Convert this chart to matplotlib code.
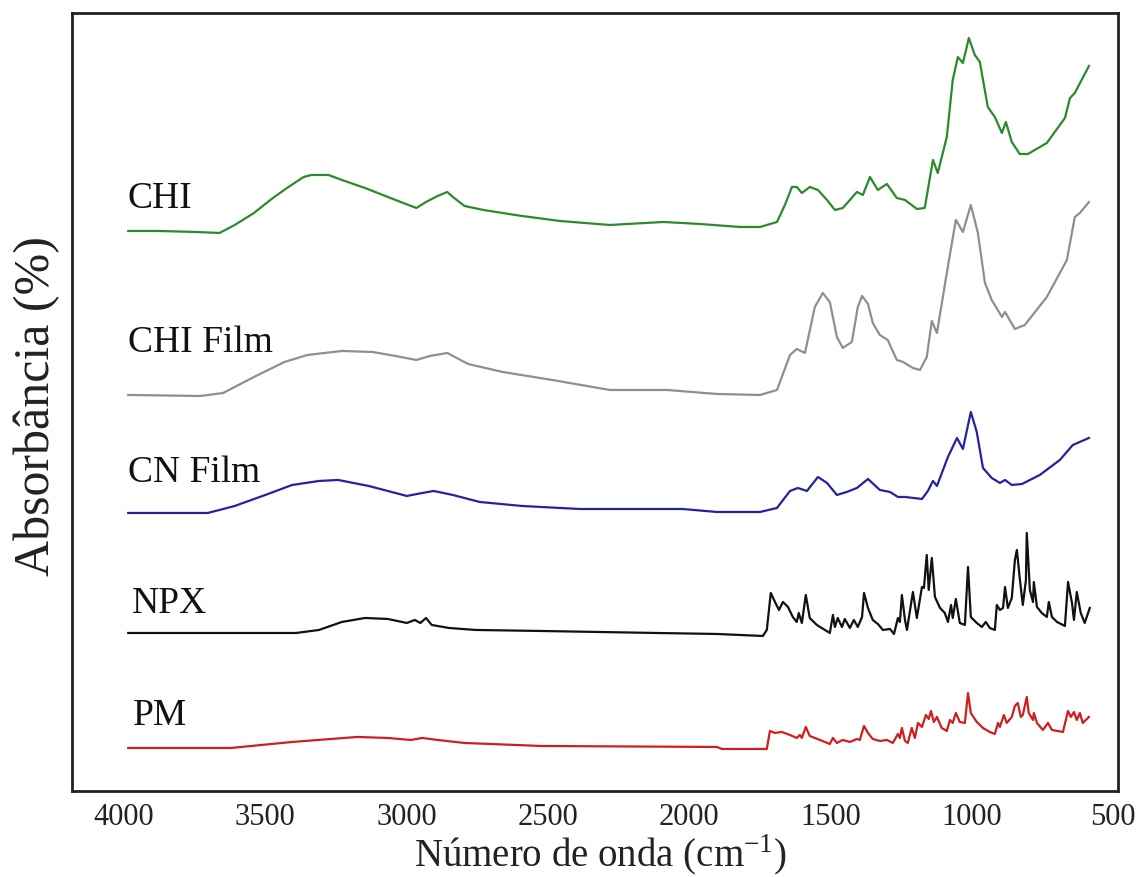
import matplotlib
matplotlib.use("Agg")
import matplotlib.pyplot as plt

plt.rcParams["font.family"] = ["Liberation Serif", "DejaVu Serif"]
plt.rcParams["mathtext.fontset"] = "custom"
plt.rcParams["mathtext.rm"] = "Liberation Serif"

# ---------- FTIR spectra (wavenumber in cm-1, absorbance in a.u. above each baseline) ----------

chi_wn = [3985, 3879, 3743, 3662, 3608, 3540, 3473, 3418, 3364, 3337, 3276, 3229, 3147,
          3066, 3012, 2965, 2931, 2890, 2856, 2836, 2795, 2728, 2592, 2457, 2281, 2091,
          1962, 1820, 1749, 1689, 1661, 1636, 1619, 1601, 1573, 1544, 1512, 1484, 1456,
          1406, 1385, 1360, 1332, 1300, 1265, 1236, 1194, 1166, 1148, 1137, 1120, 1088,
          1067, 1049, 1031, 1010, 989, 971, 943, 918, 893, 879, 858, 830, 801, 734, 670,
          652, 635, 585]
chi_abs = [0.00, 0.00, -0.01, -0.02, 0.06, 0.18, 0.33, 0.44, 0.54, 0.56, 0.56, 0.51, 0.43,
           0.34, 0.28, 0.23, 0.29, 0.35, 0.39, 0.34, 0.25, 0.21, 0.15, 0.10, 0.06, 0.09,
           0.07, 0.04, 0.04, 0.09, 0.26, 0.44, 0.44, 0.38, 0.44, 0.41, 0.31, 0.21, 0.23,
           0.39, 0.36, 0.54, 0.41, 0.47, 0.33, 0.31, 0.22, 0.23, 0.53, 0.71, 0.58, 0.94,
           1.51, 1.74, 1.68, 1.93, 1.76, 1.69, 1.24, 1.14, 0.98, 1.09, 0.89, 0.77, 0.77, 0.88,
           1.13, 1.33, 1.38, 1.65]

film_wn = [3985, 3730, 3649, 3540, 3432, 3351, 3229, 3120, 3039, 2965, 2917, 2856, 2782,
           2660, 2484, 2281, 2078, 1902, 1749, 1689, 1643, 1619, 1590, 1555, 1527, 1502,
           1477, 1456, 1424, 1403, 1388, 1367, 1350, 1325, 1297, 1265, 1243, 1208, 1183,
           1159, 1141, 1123, 1088, 1056, 1031, 1003, 978, 953, 929, 893, 882, 847, 812,
           734, 663, 635, 617, 585]
film_abs = [0.00, -0.01, 0.02, 0.18, 0.33, 0.40, 0.44, 0.43, 0.39, 0.35, 0.39, 0.42, 0.31,
            0.23, 0.15, 0.05, 0.05, 0.01, 0.00, 0.05, 0.40, 0.46, 0.42, 0.88, 1.02, 0.93,
            0.58, 0.47, 0.53, 0.88, 0.99, 0.91, 0.72, 0.60, 0.55, 0.35, 0.33, 0.27, 0.25,
            0.38, 0.74, 0.62, 1.22, 1.75, 1.63, 1.90, 1.62, 1.12, 0.95, 0.78, 0.83, 0.66,
            0.70, 0.98, 1.35, 1.78, 1.82, 1.93]

cn_wn = [3985, 3703, 3608, 3500, 3405, 3310, 3242, 3134, 2999, 2944, 2904, 2836, 2741,
         2592, 2389, 2024, 1902, 1749, 1689, 1643, 1615, 1583, 1544, 1512, 1477, 1442,
         1406, 1367, 1325, 1289, 1261, 1236, 1176, 1155, 1137, 1123, 1084, 1052, 1031,
         1003, 982, 960, 929, 900, 882, 858, 822, 759, 688, 642, 585]
cn_abs = [0.00, 0.00, 0.07, 0.18, 0.28, 0.32, 0.33, 0.27, 0.17, 0.20, 0.22, 0.18, 0.11,
          0.07, 0.04, 0.04, 0.01, 0.01, 0.05, 0.22, 0.25, 0.22, 0.36, 0.30, 0.18, 0.21,
          0.25, 0.34, 0.23, 0.21, 0.16, 0.16, 0.14, 0.22, 0.32, 0.27, 0.56, 0.75, 0.64,
          1.01, 0.81, 0.45, 0.35, 0.30, 0.33, 0.28, 0.29, 0.38, 0.53, 0.68, 0.75]

npx_wn = [3985, 3391, 3310, 3229, 3147, 3066, 2999, 2971, 2951, 2931, 2911, 2850, 2755,
          2525, 2118, 1902, 1739, 1725, 1711, 1696, 1682, 1668, 1650, 1633, 1619, 1612,
          1601, 1587, 1573, 1548, 1502, 1491, 1484, 1474, 1459, 1449, 1431, 1417, 1403,
          1388, 1381, 1367, 1350, 1332, 1314, 1289, 1275, 1261, 1254, 1247, 1236, 1229,
          1208, 1194, 1176, 1169, 1159, 1152, 1141, 1130, 1112, 1095, 1084, 1073, 1067,
          1056, 1042, 1024, 1013, 1003, 982, 964, 950, 936, 918, 911, 900, 889, 882, 872,
          858, 847, 840, 830, 819, 808, 805, 794, 783, 780, 769, 752, 734, 727, 716, 698,
          670, 659, 645, 638, 628, 614, 600, 582]
npx_abs = [0.00, 0.00, 0.03, 0.11, 0.15, 0.14, 0.10, 0.13, 0.10, 0.15, 0.08, 0.05, 0.03,
           0.02, 0.00, -0.01, -0.03, 0.03, 0.40, 0.31, 0.23, 0.31, 0.26, 0.16, 0.11, 0.20,
           0.10, 0.38, 0.15, 0.08, 0.00, 0.18, 0.06, 0.15, 0.06, 0.14, 0.05, 0.13, 0.06,
           0.16, 0.40, 0.25, 0.13, 0.09, 0.03, 0.04, -0.01, 0.15, 0.11, 0.38, 0.13, 0.03,
           0.41, 0.15, 0.46, 0.45, 0.78, 0.43, 0.75, 0.36, 0.25, 0.20, 0.11, 0.28, 0.15,
           0.34, 0.10, 0.08, 0.66, 0.16, 0.10, 0.06, 0.11, 0.05, 0.03, 0.28, 0.23, 0.25, 0.46,
           0.25, 0.35, 0.73, 0.83, 0.55, 0.28, 0.53, 1.00, 0.43, 0.31, 0.51, 0.26, 0.20, 0.16,
           0.31, 0.16, 0.11, 0.07, 0.51, 0.30, 0.13, 0.41, 0.20, 0.10, 0.25]

pm_wn = [3985, 3621, 3405, 3175, 3066, 2985, 2944, 2890, 2795, 2525, 1902, 1884, 1725,
         1714, 1696, 1672, 1643, 1619, 1608, 1601, 1587, 1573, 1537, 1502, 1491, 1477,
         1456, 1431, 1406, 1396, 1381, 1367, 1350, 1325, 1300, 1279, 1261, 1254, 1247,
         1236, 1226, 1212, 1201, 1190, 1176, 1162, 1152, 1144, 1134, 1123, 1106, 1088,
         1077, 1067, 1056, 1042, 1024, 1013, 1003, 982, 960, 936, 918, 907, 900, 886, 876,
         858, 847, 837, 826, 819, 805, 798, 783, 780, 769, 748, 730, 716, 677, 659, 649,
         638, 628, 617, 607, 585]
pm_abs = [0.00, 0.00, 0.06, 0.11, 0.10, 0.08, 0.10, 0.08, 0.05, 0.02, 0.01, -0.01, -0.01,
          0.17, 0.15, 0.16, 0.13, 0.10, 0.13, 0.10, 0.21, 0.12, 0.08, 0.04, 0.10, 0.05,
          0.08, 0.06, 0.09, 0.08, 0.22, 0.15, 0.09, 0.07, 0.08, 0.05, 0.14, 0.10, 0.20,
          0.07, 0.05, 0.20, 0.10, 0.25, 0.21, 0.33, 0.29, 0.37, 0.26, 0.31, 0.20, 0.17,
          0.28, 0.25, 0.35, 0.26, 0.25, 0.55, 0.35, 0.26, 0.20, 0.16, 0.14, 0.25, 0.21, 0.33,
          0.25, 0.31, 0.42, 0.45, 0.31, 0.33, 0.51, 0.35, 0.28, 0.35, 0.25, 0.18, 0.25, 0.18,
          0.16, 0.37, 0.31, 0.36, 0.28, 0.35, 0.25, 0.31]

names = ["CHI", "CHI Film", "CN Film", "NPX", "PM"]
offsets = [5.60, 3.96, 2.78, 1.58, 0.43]
colors = ["#2b8a2b", "#8f8f8f", "#2323a0", "#111111", "#cc2020"]
label_pos = [(3986, 5.83), (3986, 4.39), (3986, 3.09), (3973, 1.78), (3967, 0.66)]

spectra = [(chi_wn, chi_abs), (film_wn, film_abs), (cn_wn, cn_abs),
           (npx_wn, npx_abs), (pm_wn, pm_abs)]

# ---------- figure ----------

fig = plt.figure(figsize=(11.39, 8.77), dpi=100)
ax = fig.add_axes([0.0632, 0.0981, 0.9184, 0.8871])

for (wn, ab), off, col, name, (lx, ly) in zip(spectra, offsets, colors, names, label_pos):
    ax.plot(wn, [a + off for a in ab], color=col, linewidth=1.6)
    ax.text(lx, ly, name, fontsize=27, color="#111111", ha="left", va="baseline")

ax.set_xlim(4184, 482)
ax.set_ylim(0, 7.78)
ax.set_xticks([4000, 3500, 3000, 2500, 2000, 1500, 1000, 500])
ax.set_yticks([])
ax.tick_params(axis="x", length=0, pad=9, labelsize=22, colors="#222222")

for spine in ax.spines.values():
    spine.set_linewidth(2.0)
    spine.set_color("#222222")

ax.set_xlabel("Número de onda (cm$^{\\mathregular{-1}}$)", fontsize=28, color="#222222")
ax.xaxis.label.set_va("baseline")
ax.xaxis.set_label_coords(0.505, -0.0977)
ax.set_ylabel("Absorbância (%)", fontsize=36, color="#222222")
ax.yaxis.set_label_coords(-0.011, 0.495)

fig.savefig("out.png", dpi=100)
